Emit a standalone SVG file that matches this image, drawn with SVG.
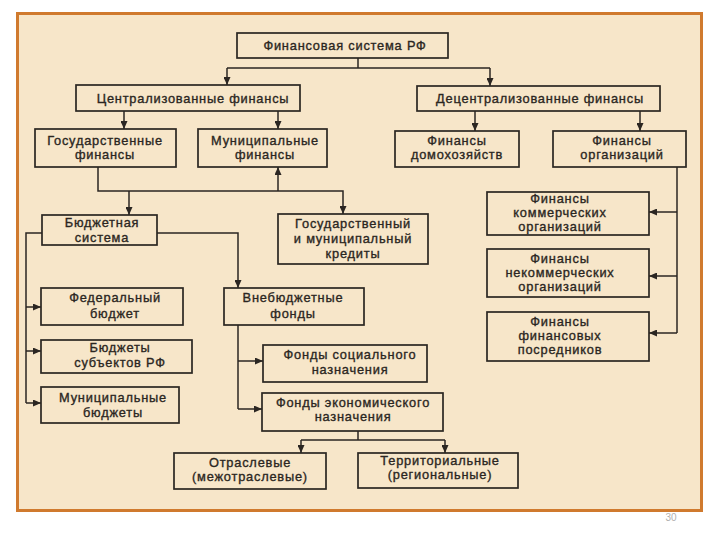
<svg xmlns="http://www.w3.org/2000/svg" width="720" height="540" viewBox="0 0 720 540">
<style>
.box{fill:none;stroke:#2b2622;stroke-width:1.7}
.t{font-family:"Liberation Sans",Arial,sans-serif;font-size:12.8px;fill:#2b2622;stroke:#2b2622;stroke-width:0.35px;text-anchor:middle;letter-spacing:0.8px}
.c{fill:none;stroke:#2b2622;stroke-width:1.5}
.a{fill:none;stroke:#2b2622;stroke-width:1.5;marker-end:url(#ah)}
</style>
<defs>
<marker id="ah" viewBox="0 0 8 7" refX="8" refY="3.5" markerWidth="8" markerHeight="7" markerUnits="userSpaceOnUse" orient="auto">
<path d="M0,0 L8,3.5 L0,7 z" fill="#2b2622"/>
</marker>
</defs>
<rect x="0" y="0" width="720" height="540" fill="#ffffff"/>
<rect x="17.5" y="13.5" width="684" height="497" fill="#F7E6C9" stroke="#D07A2E" stroke-width="3"/>
<text x="671" y="521" style="font-family:'Liberation Sans',Arial,sans-serif;font-size:10px;fill:#b0b0b0;text-anchor:middle">30</text>

<g id="connectors">
<path class="c" d="M358,58 V68 M227,68 H490"/>
<path class="a" d="M227,68 V85"/>
<path class="a" d="M490,68 V86"/>
<path class="a" d="M124,111 V129"/>
<path class="a" d="M278,111 V129"/>
<path class="a" d="M475,111 V131"/>
<path class="a" d="M640,111 V131"/>
<path class="a" d="M98,167 V191 H343 V214"/>
<path class="a" d="M278,191 V167"/>
<path class="a" d="M129,191 V215"/>
<path class="c" d="M677,167 V333"/>
<path class="a" d="M677,212 H649"/>
<path class="a" d="M677,276 H649"/>
<path class="a" d="M677,333 H649"/>
<path class="a" d="M157,233 H238 V288"/>
<path class="c" d="M42,233 H26 V403"/>
<path class="a" d="M26,307 H41"/>
<path class="a" d="M26,351 H41"/>
<path class="a" d="M26,403 H41"/>
<path class="c" d="M238,325 V409"/>
<path class="a" d="M238,361 H263"/>
<path class="a" d="M238,409 H262"/>
<path class="c" d="M358,431 V440 M301,440 H445"/>
<path class="a" d="M301,440 V453"/>
<path class="a" d="M445,440 V453"/>
</g>

<g id="n-fin-system"><rect class="box" x="237" y="33" width="211" height="25"/><text class="t" x="345" y="50">Финансовая система РФ</text></g>
<g id="n-central"><rect class="box" x="76" y="85" width="224" height="26"/><text class="t" x="193" y="103">Централизованные финансы</text></g>
<g id="n-decentral"><rect class="box" x="417" y="86" width="243" height="25"/><text class="t" x="540" y="103">Децентрализованные финансы</text></g>
<g id="n-gov"><rect class="box" x="35" y="129" width="141" height="38"/><text class="t" x="105" y="145">Государственные</text><text class="t" x="105" y="159">финансы</text></g>
<g id="n-mun"><rect class="box" x="198" y="129" width="129" height="38"/><text class="t" x="265" y="145">Муниципальные</text><text class="t" x="265" y="159">финансы</text></g>
<g id="n-house"><rect class="box" x="395" y="131" width="124" height="36"/><text class="t" x="457" y="145">Финансы</text><text class="t" x="457" y="159">домохозяйств</text></g>
<g id="n-org"><rect class="box" x="553" y="131" width="133" height="36"/><text class="t" x="622" y="145">Финансы</text><text class="t" x="622" y="159">организаций</text></g>
<g id="n-budget"><rect class="box" x="42" y="215" width="115" height="30"/><text class="t" x="102" y="227">Бюджетная</text><text class="t" x="102" y="242">система</text></g>
<g id="n-credit"><rect class="box" x="278" y="214" width="150" height="50"/><text class="t" x="353" y="228">Государственный</text><text class="t" x="353" y="243">и муниципальный</text><text class="t" x="353" y="258">кредиты</text></g>
<g id="n-commerc"><rect class="box" x="487" y="192" width="162" height="43"/><text class="t" x="560" y="203">Финансы</text><text class="t" x="560" y="217">коммерческих</text><text class="t" x="560" y="231">организаций</text></g>
<g id="n-noncommerc"><rect class="box" x="487" y="249" width="162" height="48"/><text class="t" x="560" y="263">Финансы</text><text class="t" x="560" y="277">некоммерческих</text><text class="t" x="560" y="291">организаций</text></g>
<g id="n-intermed"><rect class="box" x="487" y="312" width="162" height="49"/><text class="t" x="560" y="326">Финансы</text><text class="t" x="560" y="340">финансовых</text><text class="t" x="560" y="354">посредников</text></g>
<g id="n-federal"><rect class="box" x="41" y="288" width="142" height="37"/><text class="t" x="115" y="302">Федеральный</text><text class="t" x="115" y="318">бюджет</text></g>
<g id="n-subjects"><rect class="box" x="41" y="340" width="151" height="33"/><text class="t" x="120" y="352">Бюджеты</text><text class="t" x="120" y="367">субъектов РФ</text></g>
<g id="n-munbudget"><rect class="box" x="41" y="387" width="138" height="36"/><text class="t" x="113" y="402">Муниципальные</text><text class="t" x="113" y="417">бюджеты</text></g>
<g id="n-extrabudget"><rect class="box" x="224" y="288" width="140" height="37"/><text class="t" x="293" y="302">Внебюджетные</text><text class="t" x="293" y="318">фонды</text></g>
<g id="n-social"><rect class="box" x="263" y="345" width="164" height="37"/><text class="t" x="350" y="359">Фонды социального</text><text class="t" x="350" y="374">назначения</text></g>
<g id="n-economic"><rect class="box" x="262" y="393" width="181" height="38"/><text class="t" x="353" y="407">Фонды экономического</text><text class="t" x="353" y="421">назначения</text></g>
<g id="n-sector"><rect class="box" x="174" y="453" width="152" height="36"/><text class="t" x="250" y="467">Отраслевые</text><text class="t" x="250" y="481">(межотраслевые)</text></g>
<g id="n-territory"><rect class="box" x="358" y="453" width="160" height="35"/><text class="t" x="440" y="465">Территориальные</text><text class="t" x="440" y="479">(региональные)</text></g>
</svg>
